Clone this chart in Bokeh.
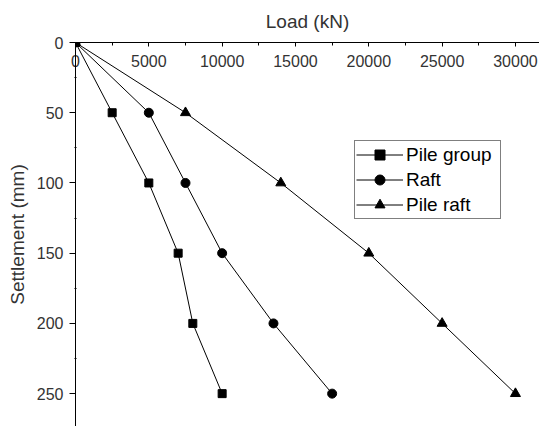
from bokeh.plotting import figure
from bokeh.models import Range1d, Legend, LegendItem, FixedTicker
from bokeh.embed import file_html
from bokeh.resources import INLINE

settlement = [0, 50, 100, 150, 200, 250]
pile_group = [0, 2500, 5000, 7000, 8000, 10000]
raft = [0, 5000, 7500, 10000, 13500, 17500]
pile_raft = [0, 7500, 14000, 20000, 25000, 30000]

x_ticks = [0, 5000, 10000, 15000, 20000, 25000, 30000]
x_minor = [2500, 7500, 12500, 17500, 22500, 27500]
y_ticks = [0, 50, 100, 150, 200, 250]
y_minor = [25, 75, 125, 175, 225]

FONT = "Liberation Sans"

p = figure(width=539, height=426, output_backend="svg", toolbar_location=None,
           x_axis_location="above",
           x_range=Range1d(0, 31640), y_range=Range1d(273.4, 0),
           min_border_left=75, min_border_top=42, min_border_right=0, min_border_bottom=0)
p.outline_line_color = None
p.grid.visible = False
p.background_fill_color = "white"
p.border_fill_color = "white"

xa = p.xaxis[0]
xa.ticker = FixedTicker(ticks=x_ticks, minor_ticks=x_minor)
xa.axis_label = "Load (kN)"
xa.major_tick_in = 4
xa.major_tick_out = 0
xa.minor_tick_in = 3
xa.minor_tick_out = 0
xa.major_label_standoff = -24
xa.axis_label_standoff = 20

ya = p.yaxis[0]
ya.ticker = FixedTicker(ticks=y_ticks, minor_ticks=y_minor)
ya.axis_label = "Settlement (mm)"
ya.major_tick_in = 0
ya.major_tick_out = 6
ya.minor_tick_in = 1
ya.minor_tick_out = 1
ya.major_label_standoff = 6
ya.axis_label_standoff = 6

for ax in (xa, ya):
    ax.axis_line_color = "black"
    ax.major_tick_line_color = "black"
    ax.minor_tick_line_color = "black"
    ax.major_label_text_font = FONT
    ax.major_label_text_font_size = "16px"
    ax.major_label_text_color = "#333333"
    ax.axis_label_text_font = FONT
    ax.axis_label_text_font_size = "19px"
    ax.axis_label_text_font_style = "normal"
    ax.axis_label_text_color = "#333333"

l1 = p.line(pile_group, settlement, line_color="black", line_width=1)
m1 = p.scatter(pile_group, settlement, marker="square", size=8, color="black")
l2 = p.line(raft, settlement, line_color="black", line_width=1)
m2 = p.scatter(raft, settlement, marker="circle", size=9, color="black")
l3 = p.line(pile_raft, settlement, line_color="black", line_width=1)
m3 = p.scatter(pile_raft, settlement, marker="triangle", size=10, color="black")

legend = Legend(items=[LegendItem(label="Pile group", renderers=[l1, m1]),
                       LegendItem(label="Raft", renderers=[l2, m2]),
                       LegendItem(label="Pile raft", renderers=[l3, m3])],
                location=(279, 207))
legend.border_line_color = "black"
legend.border_line_width = 1
legend.background_fill_alpha = 1
legend.padding = 1
legend.margin = 0
legend.spacing = 0
legend.glyph_width = 47
legend.glyph_height = 25
legend.label_height = 25
legend.label_width = 93
legend.label_standoff = 3
legend.label_text_font = FONT
legend.label_text_font_size = "19px"
legend.label_text_color = "black"
p.add_layout(legend, "center")

open("out.html", "w").write(file_html(p, INLINE))
